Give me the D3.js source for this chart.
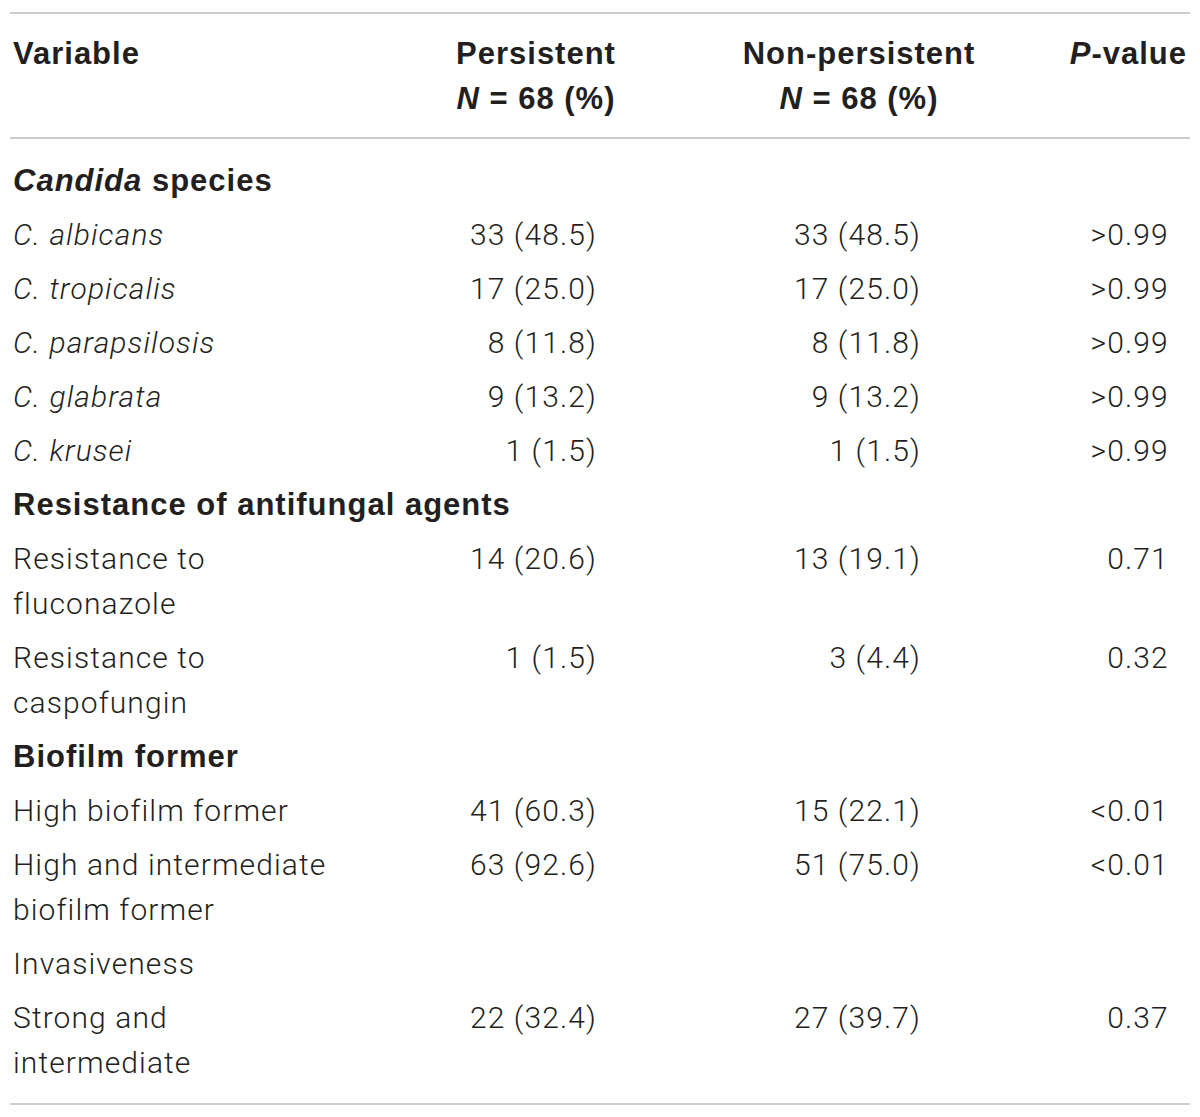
<!DOCTYPE html>
<html>
<head>
<meta charset="utf-8">
<script src="https://cdn.jsdelivr.net/npm/d3@7"></script>
<style>
  body { margin: 0; background: #fff; }
  svg { display: block; }
</style>
</head>
<body>
<svg id="chart" width="1200" height="1117"></svg>
<script>
// table content, one entry per row; *...* marks italic, \n marks a line break
var variables = [
    '*Candida* species',
    '*C. albicans*',
    '*C. tropicalis*',
    '*C. parapsilosis*',
    '*C. glabrata*',
    '*C. krusei*',
    'Resistance of antifungal agents',
    'Resistance to\nfluconazole',
    'Resistance to\ncaspofungin',
    'Biofilm former',
    'High biofilm former',
    'High and intermediate\nbiofilm former',
    'Invasiveness',
    'Strong and\nintermediate'
];
var isSection = [true, false, false, false, false, false, true, false, false, true, false, false, false, false];
var persistent = ['', '33 (48.5)', '17 (25.0)', '8 (11.8)', '9 (13.2)', '1 (1.5)', '',
    '14 (20.6)', '1 (1.5)', '', '41 (60.3)', '63 (92.6)', '', '22 (32.4)'];
var nonPersistent = ['', '33 (48.5)', '17 (25.0)', '8 (11.8)', '9 (13.2)', '1 (1.5)', '',
    '13 (19.1)', '3 (4.4)', '', '15 (22.1)', '51 (75.0)', '', '27 (39.7)'];
var pValues = ['', '>0.99', '>0.99', '>0.99', '>0.99', '>0.99', '',
    '0.71', '0.32', '', '<0.01', '<0.01', '', '0.37'];
var headers = [['Variable'], ['Persistent', '*N* = 68 (%)'], ['Non-persistent', '*N* = 68 (%)'], ['*P*-value']];

var font_size = 30,
    bold_size = 31,
    line_gap = 45,
    row_gap = 54,
    text_color = '#231f20',
    rule_color = '#cdcdcd',
    body_font = 'Roboto, "Liberation Sans", sans-serif',
    body_spacing = 1.1,
    bold_font = '"Liberation Sans", Arial, sans-serif',
    bold_spacing = 1.0;

var svg = d3.select('#chart');

// cumulative row positions (baseline of first line)
var rowLines = variables.map(function(d) { return d.split('\n').length; });
var rowTops = [];
var acc = 0;
rowLines.forEach(function(n) { rowTops.push(acc); acc += row_gap + (n - 1) * line_gap; });
var last = rowTops[rowTops.length - 1];
var y = d3.scaleLinear().domain([0, last]).range([191, 191 + last]);

// column anchors: decimal point x for data columns
var x = d3.scaleOrdinal().domain(['var', 'pers', 'non', 'p']).range([13, 560, 884, 1125]);

function addRich(sel, str) {
    // split into italic / normal pieces
    str.split('*').forEach(function(p, i) {
        if (!p) return;
        sel.append('tspan').attr('font-style', i % 2 === 1 ? 'italic' : 'normal').text(p);
    });
}

// rules
[13, 138, 1104].forEach(function(ry) {
    svg.append('line')
        .attr('x1', 10).attr('x2', 1190)
        .attr('y1', ry).attr('y2', ry)
        .attr('stroke', rule_color).attr('stroke-width', 2);
});

// header
var head = svg.append('g').attr('font-family', bold_font).attr('font-weight', 700)
    .attr('font-size', bold_size).attr('letter-spacing', bold_spacing).attr('fill', text_color);
var headX = [13, 536, 859, 1187],
    headAnchor = ['start', 'middle', 'middle', 'end'];
headers.forEach(function(lines, i) {
    lines.forEach(function(l, j) {
        var t = head.append('text')
            .attr('x', headX[i]).attr('y', 64 + j * 45)
            .attr('text-anchor', headAnchor[i]);
        addRich(t, l);
    });
});

// variable column
var rows = svg.append('g').attr('fill', text_color);
variables.forEach(function(v, i) {
    v.split('\n').forEach(function(l, j) {
        var t = rows.append('text')
            .attr('x', x('var'))
            .attr('y', y(rowTops[i]) + j * line_gap)
            .attr('font-family', isSection[i] ? bold_font : body_font)
            .attr('font-size', isSection[i] ? bold_size : font_size)
            .attr('letter-spacing', isSection[i] ? bold_spacing : body_spacing)
            .attr('font-weight', isSection[i] ? 700 : 300);
        addRich(t, l);
    });
});

// numeric columns, aligned on the decimal point
function decimalCol(values, key) {
    var g = rows.append('g').attr('font-family', body_font).attr('font-weight', 300)
        .attr('font-size', font_size).attr('letter-spacing', body_spacing);
    values.forEach(function(v, i) {
        if (!v) return;
        var k = v.indexOf('.');
        var yy = y(rowTops[i]);
        g.append('text').attr('x', x(key)).attr('y', yy)
            .attr('text-anchor', 'end').text(v.slice(0, k));
        g.append('text').attr('x', x(key)).attr('y', yy)
            .attr('text-anchor', 'start').text(v.slice(k));
    });
}
decimalCol(persistent, 'pers');
decimalCol(nonPersistent, 'non');
decimalCol(pValues, 'p');
</script>
</body>
</html>
